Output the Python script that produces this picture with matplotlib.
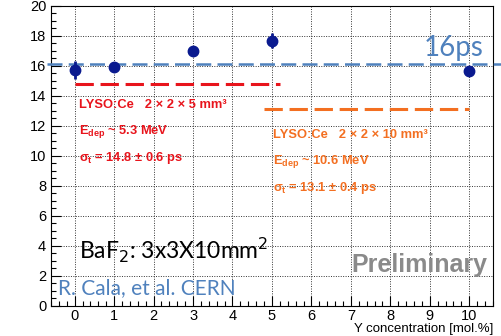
import numpy as np
import matplotlib.pyplot as plt
from matplotlib.ticker import MultipleLocator

# time resolution vs Y concentration
y_conc = np.array([0, 1, 3, 5, 10])
sigma_t = np.array([15.73, 15.93, 17.0, 17.67, 15.67])
sigma_err = np.array([0.6, 0.3, 0.35, 0.5, 0.2])

baf2_level = 16.15
lyso5_level = 14.8
lyso5_range = [0.0, 5.2]
lyso10_level = 13.1
lyso10_range = [4.8, 10.0]

lyso5_text = ["LYSO:Ce   2 × 2 × 5 mm³",
              "$E_{dep}$ ~ 5.3 MeV",
              "$σ_t$ = 14.8 ± 0.6 ps"]
lyso10_text = ["LYSO:Ce   2 × 2 × 10 mm³",
               "$E_{dep}$ ~ 10.6 MeV",
               "$σ_t$ = 13.1 ± 0.4 ps"]

blue = '#4f81bd'
red = '#e8141c'
orange = '#f36f21'
navy = '#0a1a8f'

plt.rcParams['font.family'] = ['Liberation Sans', 'DejaVu Sans']
plt.rcParams['mathtext.fontset'] = 'custom'
plt.rcParams['mathtext.rm'] = 'Liberation Sans:bold'
plt.rcParams['mathtext.it'] = 'Liberation Sans:bold'
plt.rcParams['mathtext.bf'] = 'Liberation Sans:bold'

fig = plt.figure(figsize=(5.01, 3.36), dpi=100)
ax = fig.add_axes([0.1018, 0.0893, 0.882, 0.893])

ax.set_xlim(-0.6, 10.6)
ax.set_ylim(0, 20)
ax.xaxis.set_major_locator(MultipleLocator(1))
ax.xaxis.set_minor_locator(MultipleLocator(0.2))
ax.yaxis.set_major_locator(MultipleLocator(2))
ax.yaxis.set_minor_locator(MultipleLocator(0.5))
ax.tick_params(which='both', direction='in', top=False, right=False, labelsize=10.5, width=0.8)
ax.tick_params(which='major', length=7)
ax.tick_params(which='minor', length=3.5)
ax.tick_params(axis='x', pad=2.5)
ax.grid(True, which='major', linestyle=(0, (1, 1.5)), color='#333333', linewidth=0.7)
for s in ax.spines.values():
    s.set_linewidth(0.8)

ax.set_xlabel('Y concentration [mol.%]', fontsize=9.5, ha='right', va='bottom')
ax.xaxis.set_label_coords(1.0, -0.098)

ax.plot(lyso5_range, [lyso5_level] * 2, color=red, lw=2.2, dashes=(6, 2.2), zorder=3)
ax.plot(lyso10_range, [lyso10_level] * 2, color=orange, lw=2.2, dashes=(6, 2.2), zorder=3)
ax.plot([-0.7, 11.0], [baf2_level] * 2, color=blue, lw=1.8, dashes=(6, 2.5),
        clip_on=False, zorder=3)

ax.errorbar(y_conc, sigma_t, yerr=sigma_err, fmt='o', color=navy, ms=7.5,
            elinewidth=2, capsize=0, zorder=5)

for i, t in enumerate(lyso5_text):
    ax.text(0.1, 13.4 - i * 1.77, t, color=red, fontsize=9.3, fontweight='bold',
            va='center', ha='left')
for i, t in enumerate(lyso10_text):
    ax.text(5.03, 11.4 - i * 1.77, t, color=orange, fontsize=9.3, fontweight='bold',
            va='center', ha='left')

ax.text(10.36, 17.2, '16ps', color=blue, fontsize=20, family='Lato',
        ha='right', va='center')
ax.text(0.12, 3.73, 'BaF$_2$: 3x3X10mm$^2$', color='black', fontsize=16.5,
        family='Lato', va='center', ha='left', math_fontfamily='dejavusans')
ax.text(-0.43, 1.2, 'R. Cala, et al. CERN', color=blue, fontsize=15,
        family='Lato', va='center', ha='left')
ax.text(10.45, 2.73, 'Preliminary', color='#8a8a8a', fontsize=18,
        fontweight='bold', va='center', ha='right')

fig.savefig('out.png', dpi=100)
